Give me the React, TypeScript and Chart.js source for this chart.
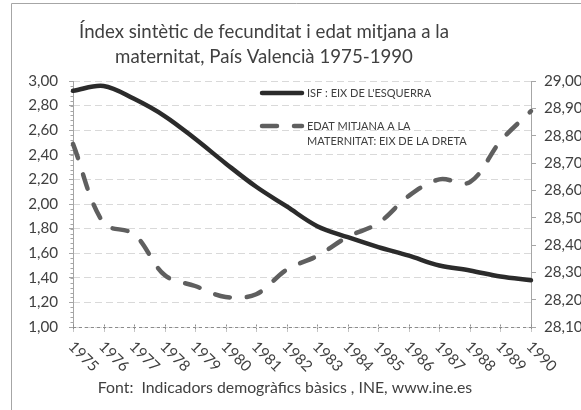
import { useEffect, useRef } from 'react';
import { Chart, registerables } from 'chart.js';

Chart.register(...registerables);

const years = ['1975', '1976', '1977', '1978', '1979', '1980', '1981', '1982', '1983', '1984', '1985', '1986', '1987', '1988', '1989', '1990'];
const isf = [2.92, 2.96, 2.855, 2.715, 2.53, 2.33, 2.14, 1.98, 1.82, 1.73, 1.65, 1.58, 1.5, 1.46, 1.41, 1.38];
const edatMitjana = [28.77, 28.48, 28.44, 28.29, 28.25, 28.21, 28.22, 28.31, 28.36, 28.43, 28.48, 28.58, 28.64, 28.63, 28.78, 28.89];

const titleLines = ['Índex sintètic de fecunditat i edat mitjana a la', 'maternitat, País Valencià 1975-1990'];
const sourceText = 'Font:  Indicadors demogràfics bàsics , INE, www.ine.es';
const legendIsf = ["ISF : EIX DE L'ESQUERRA"];
const legendEdat = ['EDAT MITJANA A LA', 'MATERNITAT: EIX DE LA DRETA'];

const leftMin = 1, leftMax = 3, leftStep = 0.2, leftMinorStep = 0.04;
const rightMin = 28.1, rightMax = 29.0, rightStep = 0.1;

const FONT = 'Lato, "Open Sans", sans-serif';
const TEXT = '#404040';
const TITLE_COLOR = '#404040';
const AXIS = '#a6a6a6';
const GRID = '#d9d9d9';

const fmt = (v: number) => Number(v).toFixed(2).replace('.', ',');

const decor = {
  id: 'decor',
  beforeDraw(chart: any) {
    const { ctx, width, height } = chart;
    ctx.save();
    ctx.fillStyle = '#ffffff';
    ctx.fillRect(0, 0, width, height);
    ctx.strokeStyle = AXIS;
    ctx.lineWidth = 1;
    ctx.beginPath();
    ctx.moveTo(11.5, height);
    ctx.lineTo(11.5, 3.5);
    ctx.lineTo(width, 3.5);
    ctx.stroke();
    ctx.restore();
  },
  beforeDatasetsDraw(chart: any) {
    const { ctx, chartArea: a, scales } = chart;
    const y = scales.y;
    const x = scales.x;
    ctx.save();
    ctx.lineWidth = 1;
    ctx.strokeStyle = AXIS;
    const lx = Math.round(a.left) + 0.5;
    ctx.beginPath();
    ctx.moveTo(lx, Math.round(a.top));
    ctx.lineTo(lx, Math.round(a.bottom));
    ctx.stroke();
    // minor ticks
    ctx.beginPath();
    for (let v = leftMin; v <= leftMax + 1e-6; v += leftMinorStep) {
      const py = Math.round(y.getPixelForValue(v)) + 0.5;
      ctx.moveTo(lx - 3, py);
      ctx.lineTo(lx, py);
    }
    ctx.stroke();
    // bottom axis dashed
    const by = Math.round(a.bottom) + 0.5;
    ctx.strokeStyle = '#8c8c8c';
    ctx.setLineDash([3, 3]);
    ctx.beginPath();
    ctx.moveTo(a.left, by);
    ctx.lineTo(a.right, by);
    ctx.stroke();
    ctx.setLineDash([2, 1]);
    ctx.beginPath();
    for (let i = 0; i < years.length; i++) {
      const px = Math.round(x.getPixelForValue(i)) + 0.5;
      ctx.moveTo(px, by - 3);
      ctx.lineTo(px, by + 4);
    }
    ctx.stroke();
    ctx.restore();
  },
  afterDraw(chart: any) {
    const { ctx, scales } = chart;
    const x = scales.x;
    ctx.save();
    // title
    ctx.fillStyle = TITLE_COLOR;
    ctx.font = `18.67px ${FONT}`;
    ctx.textAlign = 'center';
    ctx.textBaseline = 'alphabetic';
    ctx.fillText(titleLines[0], 264, 38);
    ctx.fillText(titleLines[1], 264, 63);
    // source
    ctx.font = `15.8px ${FONT}`;
    ctx.fillText(sourceText, 285, 393);
    // rotated x labels
    ctx.fillStyle = TEXT;
    ctx.font = `15.2px ${FONT}`;
    ctx.textAlign = 'left';
    ctx.textBaseline = 'middle';
    for (let i = 0; i < years.length; i++) {
      const px = x.getPixelForValue(i);
      ctx.save();
      ctx.translate(px - 2, 344);
      ctx.rotate(Math.PI / 4);
      ctx.fillText(years[i], 0, 0);
      ctx.restore();
    }
    // legend
    const ds = chart.data.datasets;
    ctx.lineCap = 'round';
    ctx.lineWidth = ds[0].borderWidth;
    ctx.strokeStyle = ds[0].borderColor;
    ctx.beginPath();
    ctx.moveTo(262, 93);
    ctx.lineTo(302, 93);
    ctx.stroke();
    ctx.lineWidth = ds[1].borderWidth;
    ctx.strokeStyle = ds[1].borderColor;
    ctx.setLineDash(ds[1].borderDash);
    ctx.beginPath();
    ctx.moveTo(262, 126);
    ctx.lineTo(302, 126);
    ctx.stroke();
    ctx.setLineDash([]);
    ctx.fillStyle = TITLE_COLOR;
    ctx.font = `11px ${FONT}`;
    ctx.textBaseline = 'alphabetic';
    ctx.fillText(legendIsf[0], 307, 97);
    ctx.fillText(legendEdat[0], 307, 130);
    ctx.fillText(legendEdat[1], 307, 145);
    ctx.restore();
  },
};

export default function App() {
  const ref = useRef<HTMLCanvasElement | null>(null);
  useEffect(() => {
    document.body.style.margin = '0';
    const canvas = ref.current;
    if (!canvas) return;
    const chart = new Chart(canvas, {
      type: 'line',
      data: {
        labels: years,
        datasets: [
          {
            label: legendIsf.join(' '),
            data: isf,
            yAxisID: 'y',
            borderColor: '#2b2b2b',
            borderWidth: 4.5,
            tension: 0.35,
            pointRadius: 0,
            borderCapStyle: 'round',
            borderJoinStyle: 'round',
            clip: false as any,
          },
          {
            label: legendEdat.join(' '),
            data: edatMitjana,
            yAxisID: 'y1',
            borderColor: '#5f5f5f',
            borderWidth: 4.5,
            borderDash: [15, 17],
            tension: 0.35,
            pointRadius: 0,
            borderCapStyle: 'round',
            borderJoinStyle: 'round',
            clip: false as any,
          },
        ],
      },
      options: {
        responsive: false,
        animation: false,
        devicePixelRatio: 1,
        layout: { padding: { top: 81, left: 0, right: 0, bottom: 0 } },
        plugins: {
          legend: { display: false },
          title: { display: false },
          tooltip: { enabled: false },
        },
        scales: {
          x: {
            type: 'category',
            offset: false,
            grid: { display: false },
            border: { display: false },
            ticks: { display: false },
            afterFit: (s: any) => { s.height = 83; },
          },
          y: {
            position: 'left',
            min: leftMin,
            max: leftMax,
            ticks: {
              stepSize: leftStep,
              color: TEXT,
              font: { family: FONT, size: 15.2 },
              padding: 11,
              callback: (v: any) => fmt(v),
            },
            grid: { color: GRID, tickColor: AXIS, tickLength: 4, drawTicks: true, lineWidth: 1 },
            border: { display: false, dash: [7, 4] },
            afterFit: (s: any) => { s.width = 73; },
          },
          y1: {
            position: 'right',
            min: rightMin,
            max: rightMax,
            ticks: {
              stepSize: rightStep,
              color: TEXT,
              font: { family: FONT, size: 15.2 },
              padding: 8,
              callback: (v: any) => fmt(v),
            },
            grid: { drawOnChartArea: false, tickColor: AXIS, tickLength: 5 },
            border: { display: true, color: AXIS, width: 1 },
            afterFit: (s: any) => { s.width = 50; },
          },
        },
      },
      plugins: [decor],
    });
    return () => chart.destroy();
  }, []);
  return (
    <div style={{ position: 'fixed', left: 0, top: 0, width: 581, height: 410 }}>
      <canvas ref={ref} width={581} height={410} style={{ display: 'block' }} />
    </div>
  );
}
